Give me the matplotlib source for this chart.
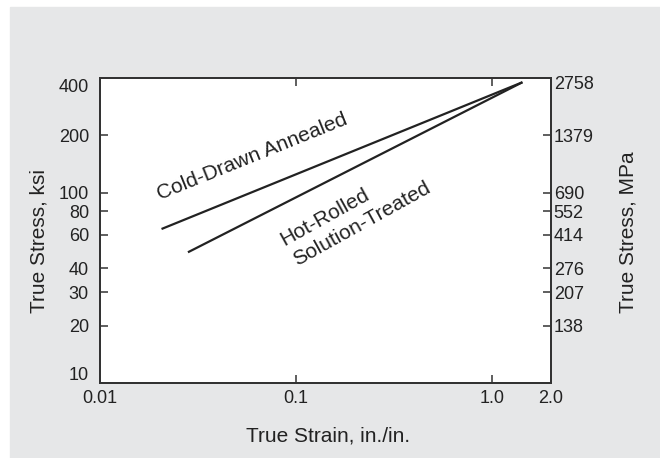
import numpy as np
import matplotlib.pyplot as plt
from matplotlib.patches import Rectangle
from matplotlib.ticker import NullLocator
from matplotlib.transforms import ScaledTranslation

plt.rcParams['font.family'] = ['Liberation Sans', 'DejaVu Sans']

# strain (in./in.) and true stress (ksi) at the ends of each line
cold_strain = [0.0206, 1.43]
cold_stress = [64.4, 380]
hot_strain = [0.0281, 1.43]
hot_stress = [48.6, 380]

x_ticks = [0.01, 0.1, 1.0, 2.0]
x_labels = ['0.01', '0.1', '1.0', '2.0']
ksi_ticks = [10, 20, 30, 40, 60, 80, 100, 200, 400]
ksi_labels = ['10', '20', '30', '40', '60', '80', '100', '200', '400']
mpa_ticks = [20, 30, 40, 60, 80, 100, 200, 400]
mpa_labels = ['138', '207', '276', '414', '552', '690', '1379', '2758']

W, H = 660, 458
fig = plt.figure(figsize=(W / 100, H / 100), dpi=100, facecolor='white')
fig.patches.append(Rectangle((10 / W, 0), 650 / W, (H - 7) / H,
                             transform=fig.transFigure, color='#e6e7e8', zorder=-10))

ax = fig.add_axes([100 / W, (H - 383) / H, 451 / W, 305 / H])
ax.set_facecolor('white')
ax.set_xscale('log')
ax.set_yscale('log')
ax.set_xlim(0.01, 2.0)
ax.set_ylim(10, 400)

ax.plot(cold_strain, cold_stress, color='#222222', lw=1.6, solid_capstyle='butt')
ax.plot(hot_strain, hot_stress, color='#222222', lw=1.6, solid_capstyle='butt')

ax.text(0.0598, 153.8, 'Cold-Drawn Annealed', fontsize=15, rotation=22,
        ha='center', va='center', rotation_mode='anchor', color='#222222')
ax.text(0.1397, 73.9, 'Hot-Rolled', fontsize=15, rotation=29,
        ha='center', va='center', rotation_mode='anchor', color='#222222')
ax.text(0.2153, 68.4, 'Solution-Treated', fontsize=15, rotation=29,
        ha='center', va='center', rotation_mode='anchor', color='#222222')

ax.set_xticks(x_ticks)
ax.set_xticklabels(x_labels)
ax.set_yticks(ksi_ticks)
ax.set_yticklabels(ksi_labels)
ax.xaxis.set_minor_locator(NullLocator())
ax.yaxis.set_minor_locator(NullLocator())
ax.tick_params(axis='both', direction='in', length=6, width=1.1, labelsize=13,
               color='#333333', labelcolor='#222222', top=True)
ax.tick_params(axis='y', pad=8)
ax.tick_params(axis='x', pad=5)

ax2 = ax.twinx()
ax2.set_yscale('log')
ax2.set_ylim(10, 400)
ax2.set_yticks(mpa_ticks)
ax2.set_yticklabels(mpa_labels)
ax2.yaxis.set_minor_locator(NullLocator())
ax2.tick_params(axis='y', direction='in', length=6, width=1.1, labelsize=13,
                color='#333333', labelcolor='#222222', pad=2)

for a in (ax, ax2):
    for s in a.spines.values():
        s.set_linewidth(1.4)
        s.set_color('#333333')

# corner labels sit a little inside the frame, as in the original figure
def nudge(label, dy_px):
    label.set_transform(label.get_transform() +
                        ScaledTranslation(0, dy_px / 100, fig.dpi_scale_trans))

ylabs = ax.get_yticklabels()
nudge(ylabs[0], 9)
nudge(ylabs[-1], -7)
nudge(ax2.get_yticklabels()[-1], -4)

ax.set_xlabel('True Strain, in./in.', fontsize=15, color='#222222')
ax.set_ylabel('True Stress, ksi', fontsize=15, color='#222222')
ax2.set_ylabel('True Stress, MPa', fontsize=15, color='#222222')
ax.xaxis.set_label_coords(0.506, -0.143)
ax.yaxis.set_label_coords(-0.115, 0.466)
ax2.yaxis.set_label_coords(1.15, 0.495)

fig.savefig('out.png', dpi=100)
